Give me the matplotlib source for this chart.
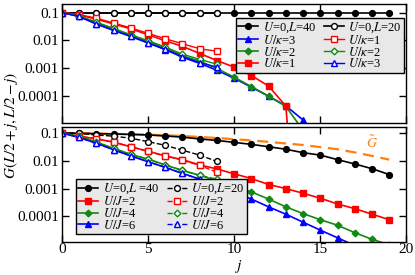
import numpy as np
import matplotlib
matplotlib.use("Agg")
import matplotlib.pyplot as plt
from matplotlib.ticker import LogLocator, NullFormatter, FixedLocator

plt.rcParams['font.family'] = ['Liberation Serif', 'DejaVu Serif']
plt.rcParams['mathtext.fontset'] = 'stix'
plt.rcParams['font.size'] = 11

# ---- upper panel (U/kappa) ----
j40 = np.arange(20)
j20 = np.arange(10)
jk = np.arange(15)
free40_top = [0.1] * 20
free20_top = [0.1] * 10
k1_40 = [0.1, 0.083, 0.058, 0.039, 0.026, 0.016, 0.0097, 0.0061, 0.0034, 0.0019,
         0.0011, 0.00055, 0.00023, 4.4e-5, 1e-12]
k2_40 = [0.1, 0.075, 0.044, 0.026, 0.015, 0.0093, 0.0054, 0.0028, 0.0018, 0.00098,
         0.00048, 0.00022, 0.0001, 4.3e-5, 6e-6]
k3_40 = [0.1, 0.072, 0.039, 0.023, 0.014, 0.0081, 0.0047, 0.0025, 0.0015, 0.00085,
         0.00044, 0.00021, 0.0001, 4.5e-5, 1.4e-5]
k1_20 = [0.1, 0.083, 0.063, 0.042, 0.028, 0.018, 0.0115, 0.0076, 0.005, 0.0041]
k2_20 = [0.1, 0.075, 0.045, 0.027, 0.016, 0.0098, 0.0058, 0.0032, 0.0021, 0.0014]
k3_20 = [0.1, 0.072, 0.039, 0.023, 0.014, 0.0082, 0.0048, 0.0026, 0.0016, 0.0011]

# ---- lower panel (U/J) ----
free40 = [0.1, 0.098, 0.095, 0.092, 0.089, 0.085, 0.078, 0.071, 0.061, 0.054,
          0.046, 0.039, 0.032, 0.026, 0.0196, 0.016, 0.011, 0.0077, 0.0052, 0.0032]
free20 = [0.1, 0.097, 0.085, 0.077, 0.065, 0.049, 0.036, 0.024, 0.016, 0.0095]
gtilde = [0.1, 0.098, 0.096, 0.093, 0.09, 0.087, 0.083, 0.078, 0.072, 0.066,
          0.06, 0.054, 0.048, 0.042, 0.037, 0.031, 0.026, 0.02, 0.015, 0.011]
J2_40 = [0.1, 0.076, 0.062, 0.047, 0.032, 0.022, 0.015, 0.011, 0.0071, 0.0051,
         0.0034, 0.0023, 0.0014, 0.001, 0.00068, 0.00045, 0.00028, 0.00019, 0.00012, 7.6e-5]
J4_40 = [0.1, 0.076, 0.047, 0.028, 0.017, 0.0115, 0.0071, 0.0045, 0.003, 0.0019,
         0.0012, 0.00076, 0.00042, 0.00022, 0.000126, 7.6e-5, 4.8e-5, 2.6e-5, 1.5e-5, 9.5e-6]
J6_40 = [0.1, 0.069, 0.043, 0.025, 0.015, 0.0093, 0.0058, 0.0035, 0.0022, 0.0014,
         0.00076, 0.00042, 0.00022, 0.00012, 6.2e-5, 3.2e-5, 1.7e-5, 8.9e-6, 5e-6, 2.5e-6]
J2_20 = [0.1, 0.076, 0.062, 0.047, 0.032, 0.022, 0.015, 0.0105, 0.0068, 0.0039]
J4_20 = [0.1, 0.076, 0.047, 0.028, 0.017, 0.0115, 0.0071, 0.0045, 0.003, 0.0022]
J6_20 = [0.1, 0.069, 0.043, 0.025, 0.015, 0.0093, 0.0058, 0.0035, 0.0022, 0.0016]

RED, GREEN, BLUE, ORANGE = '#ff0000', '#118a11', '#0000ff', '#ff7f0e'
ms = 4.2
lw = 1.2

fig = plt.figure(figsize=(4.15, 2.75), dpi=100)
ax1 = fig.add_axes([0.149, 0.553, 0.8305, 0.432])
ax2 = fig.add_axes([0.149, 0.12, 0.8305, 0.417])

legkw = dict(ncol=2, borderaxespad=0, fancybox=False, framealpha=1,
             facecolor='#e8e8e8', edgecolor='black', fontsize=9,
             handlelength=1.6, handletextpad=0.35, labelspacing=-0.1,
             columnspacing=0.6, borderpad=0.2)

# top
ax1.plot(j40, free40_top, 'k-o', ms=ms, lw=lw, label='$U$=0,$L$=40')
ax1.plot(j20, free20_top, 'k-o', ms=ms, lw=lw, mfc='white', label='$U$=0,$L$=20')
ax1.plot(jk, k3_40, '-^', color=BLUE, ms=ms, lw=lw, label=r'$U/\kappa$=3')
ax1.plot(jk, k2_40, '-D', color=GREEN, ms=ms - 0.8, lw=lw, label=r'$U/\kappa$=2')
ax1.plot(jk, k1_40, '-s', color=RED, ms=ms, lw=lw, label=r'$U/\kappa$=1')
ax1.plot(j20, k1_20, '-s', color=RED, ms=ms, lw=1.0, mfc='white', label=r'$U/\kappa$=1')
ax1.plot(j20, k2_20, '-D', color=GREEN, ms=ms - 0.8, lw=1.0, mfc='white', label=r'$U/\kappa$=2')
ax1.plot(j20, k3_20, '-^', color=BLUE, ms=ms, lw=1.0, mfc='white', label=r'$U/\kappa$=3')

h, l = ax1.get_legend_handles_labels()
order = [0, 2, 3, 4, 1, 5, 6, 7]
leg1 = ax1.legend([h[i] for i in order], [l[i] for i in order],
                  loc='upper right', bbox_to_anchor=(0.993, 0.883), **legkw)
leg1.get_frame().set_linewidth(1.0)

# bottom
ax2.plot(j40, gtilde, '--', color=ORANGE, lw=1.6, dashes=(5, 3))
ax2.plot(j40, free40, 'k-o', ms=ms, lw=lw, label='$U$=0,$L$ =40')
ax2.plot(j40, J2_40, '-s', color=RED, ms=ms, lw=lw, label='$U/J$=2')
ax2.plot(j40, J4_40, '-D', color=GREEN, ms=ms - 0.8, lw=lw, label='$U/J$=4')
ax2.plot(j40, J6_40, '-^', color=BLUE, ms=ms, lw=lw, label='$U/J$=6')
ax2.plot(j20, free20, 'k--o', ms=ms, lw=1.0, mfc='white', label='$U$=0,$L$=20')
ax2.plot(j20, J2_20, '--s', color=RED, ms=ms, lw=1.0, mfc='white', label='$U/J$=2')
ax2.plot(j20, J4_20, '--D', color=GREEN, ms=ms - 0.8, lw=1.0, mfc='white', label='$U/J$=4')
ax2.plot(j20, J6_20, '--^', color=BLUE, ms=ms, lw=1.0, mfc='white', label='$U/J$=6')
ax2.text(18.0, 0.043, r'$\tilde{G}$', color=ORANGE, fontsize=10, ha='center', va='center')

leg2 = ax2.legend(loc='lower left', bbox_to_anchor=(0.041, 0.068), **legkw)
leg2.get_frame().set_linewidth(1.0)

ax1.set_ylim(1.1e-5, 0.2)
ax2.set_ylim(1.2e-5, 0.16)
for ax in (ax1, ax2):
    ax.set_yscale('log')
    ax.set_xlim(0, 20)
    ax.xaxis.set_major_locator(FixedLocator([0, 5, 10, 15, 20]))
    ax.yaxis.set_major_locator(FixedLocator([1e-4, 1e-3, 1e-2, 1e-1]))
    ax.yaxis.set_minor_locator(LogLocator(base=10, subs=np.arange(2, 10)))
    ax.yaxis.set_minor_formatter(NullFormatter())
    ax.set_yticklabels(['0.0001', '0.001', '0.01', '0.1'])
    ax.tick_params(which='both', direction='in', top=True, right=True, labelsize=11)
    ax.tick_params(which='major', length=5, width=1, pad=2)
    ax.tick_params(which='minor', length=2.5, width=0.8)
    for s in ax.spines.values():
        s.set_linewidth(1.0)
ax1.set_xticklabels([])
ax2.tick_params(axis='x', pad=1)
fig.text(0.5765, 0.0, '$j$', ha='center', va='bottom', fontsize=11)
fig.text(0.026, 0.545, '$G(L/2+j, L/2-j)$', rotation=90, ha='center', va='center', fontsize=11)

fig.savefig('out.png', dpi=100)
